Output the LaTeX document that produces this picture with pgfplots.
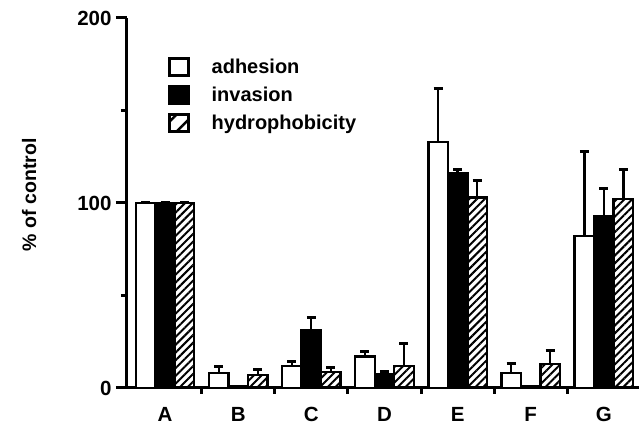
\documentclass[border=0pt]{standalone}
\usepackage{fontspec}
\setmainfont{Liberation Sans}
\usepackage{pgfplots}
\pgfplotsset{compat=1.18}
\usetikzlibrary{patterns.meta}
\begin{document}
\begin{tikzpicture}[x=1pt,y=1pt]
\useasboundingbox (-127,-39) rectangle (512,388);
\begin{axis}[
  at={(0,0)}, anchor=south west,
  width=512pt, height=370pt, scale only axis,
  xmin=-0.52, xmax=6.48, ymin=0, ymax=200,
  axis lines*=left,
  axis line style={line width=3pt},
  clip=false,
  ytick={0,100,200}, minor ytick={50,150},
  xtick={0,...,6}, xticklabels={A,B,C,D,E,F,G},
  minor xtick={0.5,1.5,2.5,3.5,4.5,5.5},
  tick align=outside,
  major tick length=11pt, minor tick length=6pt,
  tick style={line width=3pt, black},
  every major x tick/.append style={draw=none},
  /pgf/number format/assume math mode=true,
  ticklabel style={font=\bfseries\fontsize{20.5}{24}\selectfont},
  yticklabel style={xshift=-1pt},
  xticklabel style={yshift=-5pt},
  ylabel={\bfseries\% of control},
  ylabel style={at={(axis description cs:-0.191,0.522)}, anchor=center, font=\bfseries\fontsize{19.5}{22}\selectfont},
  ybar=0pt, bar width=19.5pt,
  legend style={at={(rel axis cs:0.08,0.895)}, anchor=north west, draw=none, fill=none,
    font=\bfseries\fontsize{20}{23}\selectfont, row sep=8.5pt, inner sep=0pt,
    nodes={inner xsep=0pt, inner ysep=0pt}},
  legend cell align=left,
  error bars/y dir=plus, error bars/y explicit,
  error bars/error bar style={line width=2.3pt, black},
  error bars/error mark options={line width=3pt, mark size=4.5pt, black, rotate=90},
]
\addplot[draw=black, line width=2.3pt, fill=white,
  legend image code/.code={\draw[draw=black, line width=2.5pt, fill=white] (0pt,-8pt) rectangle (19pt,9pt);}]
  coordinates {(0,100) +- (0,0) (1,8) +- (0,3.5) (2,12) +- (0,2.5) (3,17) +- (0,2.5)
               (4,133) +- (0,29) (5,8) +- (0,5) (6,82) +- (0,46)};
\addlegendentry{\hspace{22pt}adhesion}
\addplot[draw=black, line width=2.3pt, fill=black,
  legend image code/.code={\draw[draw=black, line width=2.5pt, fill=black] (0pt,-8pt) rectangle (19pt,9pt);}]
  coordinates {(0,100) +- (0,0) (1,1) +- (0,0) (2,31) +- (0,7) (3,7.5) +- (0,1.5)
               (4,116) +- (0,2) (5,1) +- (0,0) (6,93) +- (0,15)};
\addlegendentry{\hspace{22pt}invasion}
\addplot[draw=black, line width=2.3pt, pattern={Lines[angle=45,distance=5.5pt,line width=2pt]},
  legend image code/.code={\draw[draw=black, line width=2.5pt, pattern={Lines[angle=45,distance=12pt,line width=2.5pt]}] (0pt,-8pt) rectangle (19pt,9pt);}]
  coordinates {(0,100) +- (0,0) (1,7) +- (0,3) (2,8.5) +- (0,2.5) (3,12) +- (0,12)
               (4,103) +- (0,9) (5,13) +- (0,7.5) (6,102) +- (0,16)};
\addlegendentry{\hspace{22pt}hydrophobicity}
\end{axis}
\end{tikzpicture}
\end{document}
